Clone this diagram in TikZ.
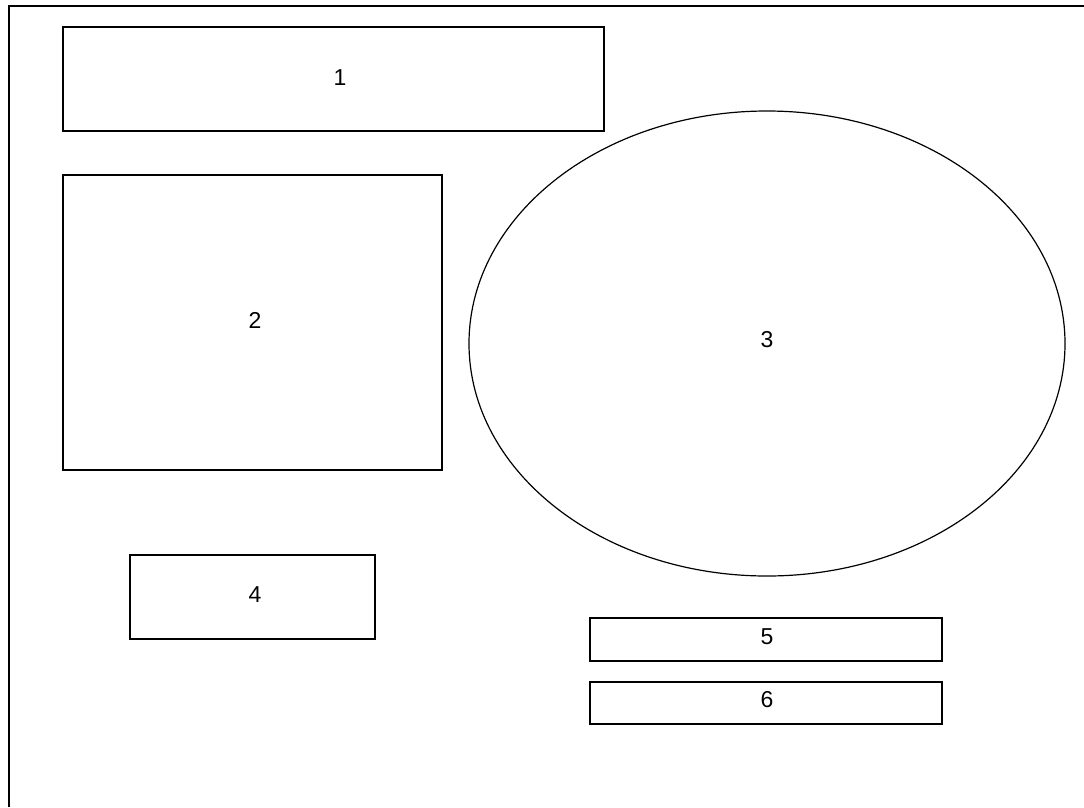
\documentclass[tikz,border=0pt]{standalone}
\usepackage{fontspec}
\setmainfont{Liberation Sans}
\usetikzlibrary{shapes.geometric, positioning}

\begin{document}
\begin{tikzpicture}[
    x=1pt, y=-1pt,
    box/.style={draw, rectangle, line width=1.2pt, inner sep=0pt},
    oval/.style={draw, ellipse, line width=1.2pt, inner sep=0pt},
    lbl/.style={font=\fontsize{23}{26}\selectfont, inner sep=0pt}
]
\useasboundingbox (0,0) rectangle (1084,807);

% Frame
\coordinate (tl) at (9,6);
\coordinate (tr) at (1084,6);
\coordinate (bl) at (9,807);
\draw[line width=2pt] (bl) -- (tl) -- (tr);

% Left column
\node[box, minimum width=541pt, minimum height=104pt,
      label={[lbl, xshift=6.5pt, yshift=1pt]center:1}] (one) at (333.5,79) {};
\node[box, minimum width=379pt, minimum height=295pt,
      label={[lbl, xshift=2.5pt, yshift=2.5pt]center:2}] (two) at (252.5,322.5) {};
\node[box, minimum width=245pt, minimum height=84pt,
      label={[lbl, xshift=2.5pt, yshift=2pt]center:4}] (four) at (252.5,597) {};

% Right column
\node[oval, minimum width=596pt, minimum height=465pt,
      label={[lbl, yshift=3.5pt]center:3}] (three) at (767,343.5) {};
\node[box, minimum width=352pt, minimum height=43pt,
      label={[lbl, xshift=1pt, yshift=2.5pt]center:5}] (five) at (766,639.5) {};
\node[box, minimum width=352pt, minimum height=42pt,
      label={[lbl, xshift=1pt, yshift=3pt]center:6}] (six) at (766,703) {};

\end{tikzpicture}
\end{document}
